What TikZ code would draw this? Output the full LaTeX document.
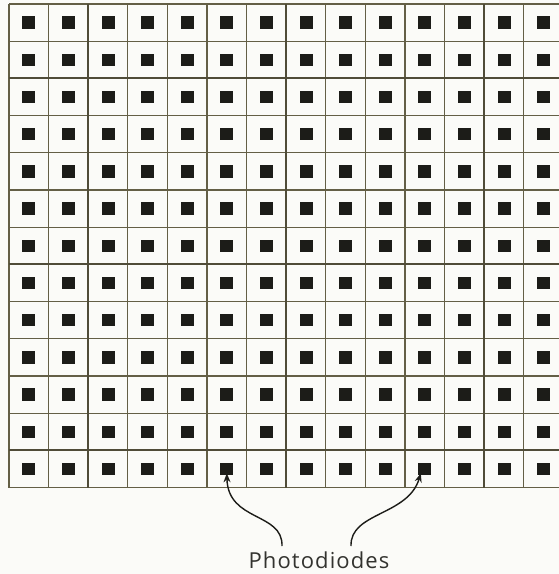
\documentclass[tikz,border=0pt]{standalone}
\usepackage{fontspec}
\setmainfont{Open Sans}
\newfontfamily\lblfont[LetterSpace=5]{Open Sans}
\usetikzlibrary{arrows.meta}
\definecolor{bgc}{RGB}{251,251,248}
\definecolor{gridc}{RGB}{100,95,70}
\definecolor{diode}{RGB}{28,28,24}
\tikzset{
  gridline/.style={draw=gridc, line width=1.3pt},
  thickline/.style={draw=gridc!80!black, line width=2pt},
  pd/.style={fill=diode, draw=none, minimum width=13pt, minimum height=12.5pt, inner sep=0pt, outer sep=0pt},
  lead/.style={draw=diode, line width=1.4pt, -{Stealth[length=9pt,width=7pt]}},
  lbl/.style={font=\lblfont\fontsize{22}{24}\selectfont, text=diode!90!white, inner sep=0pt}
}
\begin{document}
\begin{tikzpicture}[x=1pt,y=-1pt]
\fill[bgc] (0,0) rectangle (559,574);
\useasboundingbox (0,0) rectangle (559,574);
\begin{scope}
\clip (0,0) rectangle (559,574);
% horizontal lines
\foreach \r in {0,...,13}{
  \draw[gridline] (9,{4+37.2*\r}) -- (570,{4+37.2*\r});
}
% vertical lines
\foreach \c in {0,...,14}{
  \draw[gridline] ({9+39.6*\c},4) -- ({9+39.6*\c},487.6);
}
\foreach \c in {2,7,12}{
  \draw[thickline] ({9+39.6*\c},4) -- ({9+39.6*\c},487.6);
}
\foreach \r in {2,7,12}{
  \draw[thickline] (9,{4+37.2*\r}) -- (570,{4+37.2*\r});
}
% photodiodes
\foreach \r in {1,...,13}{
  \foreach \c in {1,...,14}{
    \node[pd] (p-\r-\c) at ({9+39.6*\c-19.8},{4+37.2*\r-18.6}) {};
  }
}
\end{scope}
\node[lbl, anchor=base] (label) at (319,568) {Photodiodes};
\coordinate (la) at (282,546);
\coordinate (ra) at (351,546);
\draw[lead] (la) .. controls (283,512) and (228,522) .. ([yshift=2pt]p-13-6.south);
\draw[lead] (ra) .. controls (350,512) and (408,516) .. ([xshift=-4pt,yshift=2pt]p-13-11.south);
\end{tikzpicture}
\end{document}
